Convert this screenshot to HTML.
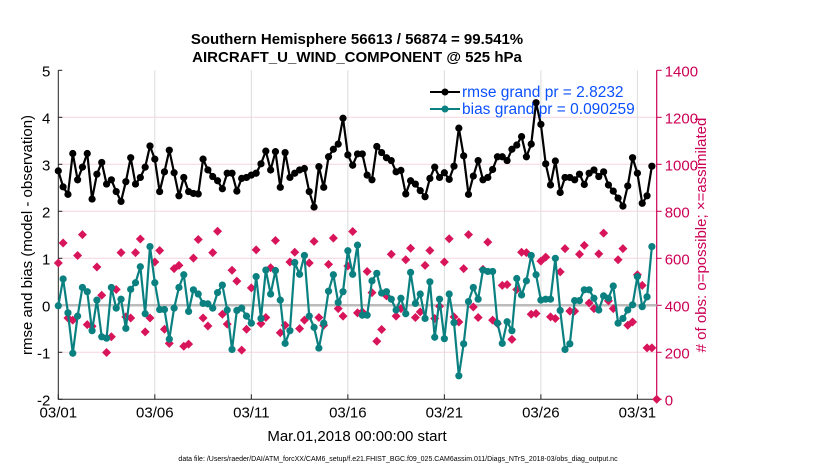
<!DOCTYPE html>
<html><head><meta charset="utf-8"><style>
body{margin:0;background:#fff;}
svg{display:block;font-family:"Liberation Sans",sans-serif;}
</style></head><body>
<svg id="chart" width="830" height="470" xmlns="http://www.w3.org/2000/svg">
<rect width="830" height="470" fill="#fff"/>
<g id="grid"></g><g id="axes"></g><g id="marks"></g>
<text x="357" y="44" text-anchor="middle" font-size="15" font-weight="bold">Southern Hemisphere 56613 / 56874 = 99.541%</text>
<text x="357" y="62" text-anchor="middle" font-size="15" font-weight="bold">AIRCRAFT_U_WIND_COMPONENT @ 525 hPa</text>
<text transform="translate(32,235) rotate(-90)" text-anchor="middle" font-size="15">rmse and bias (model - observation)</text>
<text transform="translate(706,235) rotate(-90)" text-anchor="middle" font-size="15" fill="#cc0055"># of obs: o=possible; ×=assimilated</text>
<text x="357" y="441" text-anchor="middle" font-size="15">Mar.01,2018 00:00:00 start</text>
<text x="398" y="461" text-anchor="middle" font-size="7">data file: /Users/raeder/DAI/ATM_forcXX/CAM6_setup/f.e21.FHIST_BGC.f09_025.CAM6assim.011/Diags_NTrS_2018-03/obs_diag_output.nc</text>
<g>
<line x1="430" y1="92" x2="460" y2="92" stroke="#000" stroke-width="2"/><circle cx="445" cy="92" r="3.5" fill="#000"/>
<text x="462" y="97" font-size="15.5" fill="#0b50ff">rmse grand pr = 2.8232</text>
<line x1="430" y1="109" x2="460" y2="109" stroke="#0b8080" stroke-width="2"/><circle cx="445" cy="109" r="3.5" fill="#0b8080"/>
<text x="462" y="114" font-size="15.5" fill="#0b50ff">bias grand pr = 0.090259</text>
</g>
</svg>
<script>
const xTickLabels=["03/01","03/06","03/11","03/16","03/21","03/26","03/31"];
const xTickDays=[0,5,10,15,20,25,30];
const yTicks=[-2,-1,0,1,2,3,4,5];
const y2Ticks=[0,200,400,600,800,1000,1200,1400];
const rmse=[2.86,2.52,2.36,3.23,2.67,2.94,3.23,2.26,2.79,3.04,2.58,2.67,2.42,2.21,2.63,3.14,2.58,2.72,2.94,3.39,3.11,2.42,2.84,3.30,2.82,2.33,2.72,2.42,2.38,2.37,3.11,2.88,
2.74,2.65,2.48,2.81,2.81,2.43,2.70,2.72,2.77,2.81,3.01,3.28,2.88,3.27,2.51,3.25,2.72,2.81,2.88,2.91,2.42,2.09,2.95,2.51,3.16,3.32,3.43,3.98,3.20,2.98,3.22,
3.22,2.77,2.67,3.38,3.25,3.14,3.08,2.84,2.87,2.37,2.65,2.58,2.44,2.31,2.70,2.94,2.72,2.82,2.68,2.96,3.77,3.18,2.36,2.75,3.08,2.67,2.72,2.89,3.16,3.16,3.08,
3.32,3.41,3.59,3.16,3.43,4.31,3.85,3.01,2.56,3.07,2.40,2.72,2.72,2.67,2.79,2.57,2.81,2.88,2.74,2.84,2.56,2.43,2.28,2.11,2.54,3.14,2.81,2.17,2.33,2.96];
const bias=[-0.01,0.56,-0.16,-1.02,-0.23,0.38,0.29,-0.54,0.11,-0.67,-0.70,0.38,-0.06,0.13,-0.49,0.34,0.48,0.82,-0.18,1.25,0.48,-0.09,-0.09,-0.72,-0.06,0.38,0.65,-0.13,0.33,0.24,0.04,0.03,
-0.06,0.27,0.43,-0.10,-0.94,-0.11,-0.06,-0.23,-0.38,0.61,-0.28,0.75,0.24,0.74,0.11,-0.81,-0.54,0.91,0.66,1.06,-0.23,-0.47,-0.91,-0.38,0.30,0.65,0.06,0.29,1.16,0.66,1.28,
-0.21,-0.21,0.52,0.68,0.26,0.29,0.13,-0.10,0.15,-0.18,0.70,0.04,0.24,-0.28,0.50,-0.68,0.13,-0.71,0.24,-0.37,-1.50,-0.82,0.08,0.38,0.13,0.75,0.72,0.72,-0.38,-0.81,-0.35,
-0.54,0.57,0.22,0.52,1.06,0.65,0.11,0.13,0.13,1.00,-0.11,-0.94,-0.82,0.10,0.10,0.33,0.33,0.15,-0.10,0.20,0.15,0.41,-0.38,-0.28,-0.10,0.01,0.61,-0.03,0.18,1.25];
const nobs=[580,665,346,337,612,701,318,311,563,443,199,266,467,624,351,346,624,682,287,346,584,633,298,238,556,570,226,235,601,680,346,312,
624,715,362,320,549,503,209,298,474,636,322,348,560,676,283,315,584,626,301,337,580,672,348,315,574,686,386,354,567,714,368,
372,544,454,247,297,440,617,354,386,594,643,348,372,570,633,344,396,584,683,351,329,556,701,393,348,553,669,337,322,485,488,
255,467,626,624,362,365,588,605,351,344,542,641,375,375,617,655,410,386,619,707,419,386,594,641,315,329,530,485,219,219,0];
const NS="http://www.w3.org/2000/svg";
const L=58.3,R=656.7,T=70.3,B=399.3;
const xS=d=>L+d*(R-L)/31;
const yS=v=>B-(v+2)*(B-T)/7;
const y2S=v=>B-v*(B-T)/1400;
function mk(tag,at,parent){const e=document.createElementNS(NS,tag);for(const k in at)e.setAttribute(k,at[k]);parent.appendChild(e);return e;}
const grid=document.getElementById('grid'),axes=document.getElementById('axes'),marks=document.getElementById('marks');
yTicks.forEach(v=>{if(v>-2&&v<5){const g=mk('line',{x1:L,x2:R,y1:yS(v),y2:yS(v),stroke:'#f5d3de','stroke-width':1},grid);

}
const t=mk('text',{x:L-8,y:yS(v)+6,'text-anchor':'end','font-size':15},axes);t.textContent=v;


mk('line',{x1:L,x2:L+4,y1:yS(v),y2:yS(v),stroke:'#222'},axes);});
xTickDays.forEach((d,i)=>{if(d>0){const g=mk('line',{x1:xS(d),x2:xS(d),y1:T,y2:B,stroke:'#dcdcdc','stroke-width':1},grid);

}
mk('line',{x1:xS(d),x2:xS(d),y1:B,y2:B-5,stroke:'#222'},axes);
const t=mk('text',{x:xS(d),y:B+18,'text-anchor':'middle','font-size':15},axes);t.textContent=xTickLabels[i];

});
y2Ticks.forEach(v=>{mk('line',{x1:R,x2:R+5,y1:y2S(v),y2:y2S(v),stroke:'#cc0055'},axes);
const t=mk('text',{x:R+8,y:y2S(v)+6,'font-size':15,fill:'#cc0055'},axes);t.textContent=v;

});
const ax=mk('path',{d:`M${L},${T}V${B}H${R}`,fill:'none',stroke:'#222','stroke-width':1},axes);


const ax2=mk('line',{x1:R,x2:R,y1:T,y2:B,stroke:'#cc0055','stroke-width':1.2},axes);


const z=mk('line',{x1:L,x2:R,y1:yS(0),y2:yS(0),stroke:'#bbbbbb','stroke-width':2.5},marks);


nobs.forEach((v,i)=>{const x=xS(i*0.25),y=y2S(v);
const p=mk('path',{d:`M${x},${y-4.5}L${x+4.5},${y}L${x},${y+4.5}L${x-4.5},${y}Z`,fill:'#d8145a'},marks);

});
function series(arr,col,name){
const pl=mk('polyline',{points:arr.map((v,i)=>xS(i*0.25)+','+yS(v)).join(' '),fill:'none',stroke:col,'stroke-width':2.2},marks);


arr.forEach((v,i)=>{const c=mk('circle',{cx:xS(i*0.25),cy:yS(v),r:3.6,fill:col},marks);

});}
series(bias,'#0b8080','bias');
series(rmse,'#000000','rmse');
</script>
</body></html>
